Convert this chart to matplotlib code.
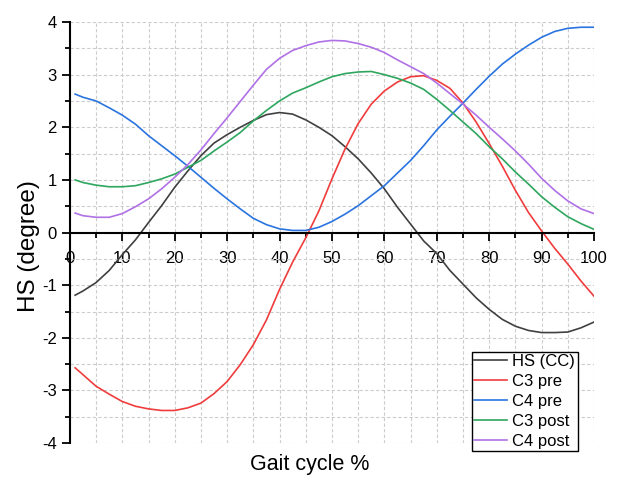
import numpy as np
import matplotlib
matplotlib.use("Agg")
import matplotlib.pyplot as plt
from matplotlib.ticker import MultipleLocator

plt.rcParams['font.family'] = ['Liberation Sans', 'DejaVu Sans']
plt.rcParams['axes.unicode_minus'] = False

# data (gait cycle %)
gait = [1, 2.5, 5, 7.5, 10, 12.5, 15, 17.5, 20, 22.5, 25, 27.5, 30, 32.5, 35, 37.5, 40,
        42.5, 45, 47.5, 50, 52.5, 55, 57.5, 60, 62.5, 65, 67.5, 70, 72.5, 75, 77.5, 80,
        82.5, 85, 87.5, 90, 92.5, 95, 97.5, 100]

hs_cc = [-1.19, -1.11, -0.95, -0.72, -0.42, -0.14, 0.19, 0.51, 0.86, 1.17, 1.46, 1.70,
         1.86, 2.0, 2.13, 2.24, 2.28, 2.25, 2.14, 2.0, 1.84, 1.63, 1.40, 1.13, 0.83, 0.48,
         0.16, -0.16, -0.40, -0.72, -0.98, -1.24, -1.46, -1.65, -1.78, -1.86, -1.9, -1.9,
         -1.89, -1.81, -1.7]
c3_pre = [-2.57, -2.7, -2.92, -3.07, -3.21, -3.3, -3.35, -3.38, -3.38, -3.33, -3.24,
          -3.06, -2.83, -2.51, -2.13, -1.66, -1.08, -0.56, -0.1, 0.41, 1.02, 1.59, 2.07,
          2.44, 2.69, 2.86, 2.96, 2.98, 2.89, 2.74, 2.46, 2.1, 1.69, 1.26, 0.8, 0.38, 0.03,
          -0.3, -0.6, -0.92, -1.21]
c4_pre = [2.63, 2.57, 2.5, 2.37, 2.23, 2.06, 1.84, 1.65, 1.46, 1.26, 1.05, 0.84, 0.64,
          0.45, 0.27, 0.15, 0.07, 0.04, 0.04, 0.1, 0.21, 0.35, 0.51, 0.7, 0.89, 1.13, 1.37,
          1.65, 1.95, 2.21, 2.46, 2.72, 2.97, 3.2, 3.39, 3.56, 3.71, 3.82, 3.88, 3.9, 3.9]
c3_post = [1.0, 0.95, 0.9, 0.87, 0.87, 0.89, 0.95, 1.02, 1.11, 1.24, 1.37, 1.55, 1.72,
           1.9, 2.12, 2.32, 2.5, 2.65, 2.75, 2.86, 2.96, 3.02, 3.05, 3.06, 3.0, 2.93, 2.84,
           2.72, 2.53, 2.32, 2.1, 1.88, 1.63, 1.4, 1.15, 0.92, 0.68, 0.48, 0.3, 0.17, 0.06]
c4_post = [0.37, 0.32, 0.29, 0.29, 0.36, 0.49, 0.64, 0.83, 1.05, 1.29, 1.57, 1.88, 2.18,
           2.49, 2.8, 3.1, 3.31, 3.46, 3.55, 3.62, 3.65, 3.64, 3.59, 3.52, 3.42, 3.28, 3.15,
           3.02, 2.84, 2.64, 2.44, 2.23, 2.0, 1.78, 1.55, 1.3, 1.03, 0.8, 0.6, 0.45, 0.36]

names = ["HS (CC)", "C3 pre", "C4 pre", "C3 post", "C4 post"]
colors = ["#404040", "#f03c3c", "#2a74e0", "#2ea65e", "#b070e6"]

fig = plt.figure(figsize=(6.24, 4.78), dpi=100)
ax = fig.add_axes([0.112, 0.073, 0.84, 0.881])

for ys, name, c in zip([hs_cc, c3_pre, c4_pre, c3_post, c4_post], names, colors):
    ax.plot(gait, ys, color=c, lw=1.2, label=name)

ax.set_xlim(0, 100)
ax.set_ylim(-4, 4)
ax.xaxis.set_major_locator(MultipleLocator(10))
ax.xaxis.set_minor_locator(MultipleLocator(5))
ax.yaxis.set_major_locator(MultipleLocator(1))
ax.yaxis.set_minor_locator(MultipleLocator(0.5))

ax.grid(which='both', color='#cccccc', ls=(0, (3, 2)), lw=0.8)
ax.set_axisbelow(True)

ax.spines['top'].set_visible(False)
ax.spines['right'].set_visible(False)
ax.spines['bottom'].set_position(('data', 0))
for s in ['left', 'bottom']:
    ax.spines[s].set_linewidth(1.5)

ax.tick_params(which='major', direction='out', length=6, width=1.3, labelsize=12)
ax.tick_params(which='minor', direction='out', length=3.5, width=1.3)
ax.tick_params(axis='x', which='major', pad=7)

ax.set_ylabel("HS (degree)", fontsize=17.5)
ax.yaxis.set_label_coords(-0.057, 0.468)
ax.set_xlabel("Gait cycle %", fontsize=15.5)
ax.xaxis.set_label_coords(0.458, -0.025)

leg = ax.legend(loc='lower right', bbox_to_anchor=(0.969, -0.019), fontsize=12,
                frameon=True, fancybox=False, edgecolor='black', framealpha=1,
                handlelength=2.0, handletextpad=0.3, borderpad=0.15,
                labelspacing=0.29, borderaxespad=0)
leg.get_frame().set_linewidth(1.0)

fig.savefig("out.png", dpi=100)
